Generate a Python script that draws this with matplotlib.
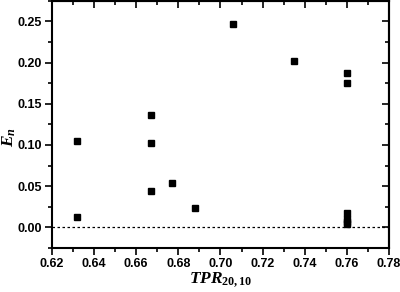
import matplotlib
matplotlib.use("Agg")
import matplotlib.pyplot as plt
from matplotlib.ticker import MultipleLocator

plt.rcParams["font.family"] = ["Liberation Sans", "DejaVu Sans"]
plt.rcParams["font.weight"] = "bold"
plt.rcParams["mathtext.fontset"] = "custom"
plt.rcParams["mathtext.it"] = "Liberation Serif:italic"
plt.rcParams["mathtext.rm"] = "Liberation Serif"
plt.rcParams["mathtext.bf"] = "Liberation Serif:italic:bold"

# datos
tpr = [0.632, 0.632, 0.667, 0.667, 0.667, 0.677, 0.688, 0.706, 0.735,
       0.760, 0.760, 0.760, 0.760, 0.760, 0.760]
en = [0.105, 0.013, 0.136, 0.103, 0.044, 0.054, 0.024, 0.247, 0.202,
      0.187, 0.175, 0.017, 0.010, 0.007, 0.004]

xticks = [0.62, 0.64, 0.66, 0.68, 0.70, 0.72, 0.74, 0.76, 0.78]
yticks = [0.00, 0.05, 0.10, 0.15, 0.20, 0.25]

fig = plt.figure(figsize=(4, 2.92), dpi=100)
ax = fig.add_axes([0.13, 0.151, 0.8425, 0.846])

ax.axhline(0, color="black", linestyle=(0, (2, 2)), linewidth=0.9)
ax.plot(tpr, en, linestyle="none", marker="s", markersize=5,
        color="black")

ax.set_xlim(0.62, 0.78)
ax.set_ylim(-0.025, 0.275)
ax.set_xticks(xticks)
ax.set_yticks(yticks)
ax.set_xticklabels(["%.2f" % v for v in xticks])
ax.set_yticklabels(["%.2f" % v for v in yticks])
ax.xaxis.set_minor_locator(MultipleLocator(0.01))
ax.yaxis.set_minor_locator(MultipleLocator(0.025))

for s in ax.spines.values():
    s.set_linewidth(1.5)

ax.tick_params(which="both", direction="out", width=1.2,
               labelsize=9, pad=2)
ax.tick_params(which="major", length=5)
ax.tick_params(which="minor", length=3)

# ticks espejo hacia dentro en los ejes superior y derecho
top = ax.secondary_xaxis("top")
top.set_xticks(xticks)
top.xaxis.set_minor_locator(MultipleLocator(0.01))
top.tick_params(which="both", direction="in", width=1.2, labeltop=False)
top.tick_params(which="major", length=5)
top.tick_params(which="minor", length=3)
right = ax.secondary_yaxis("right")
right.set_yticks(yticks)
right.yaxis.set_minor_locator(MultipleLocator(0.025))
right.tick_params(which="both", direction="in", width=1.2, labelright=False)
right.tick_params(which="major", length=5)
right.tick_params(which="minor", length=3)
for sec in (top, right):
    for s in sec.spines.values():
        s.set_linewidth(1.5)

ax.set_xlabel(r"$TPR_{20,10}$", fontsize=12.5)
ax.xaxis.set_label_coords(0.5, -0.09)
ax.set_ylabel(r"$E_n$", fontsize=12.5)
ax.yaxis.set_label_coords(-0.1, 0.45)

plt.savefig("out.png", dpi=100)
